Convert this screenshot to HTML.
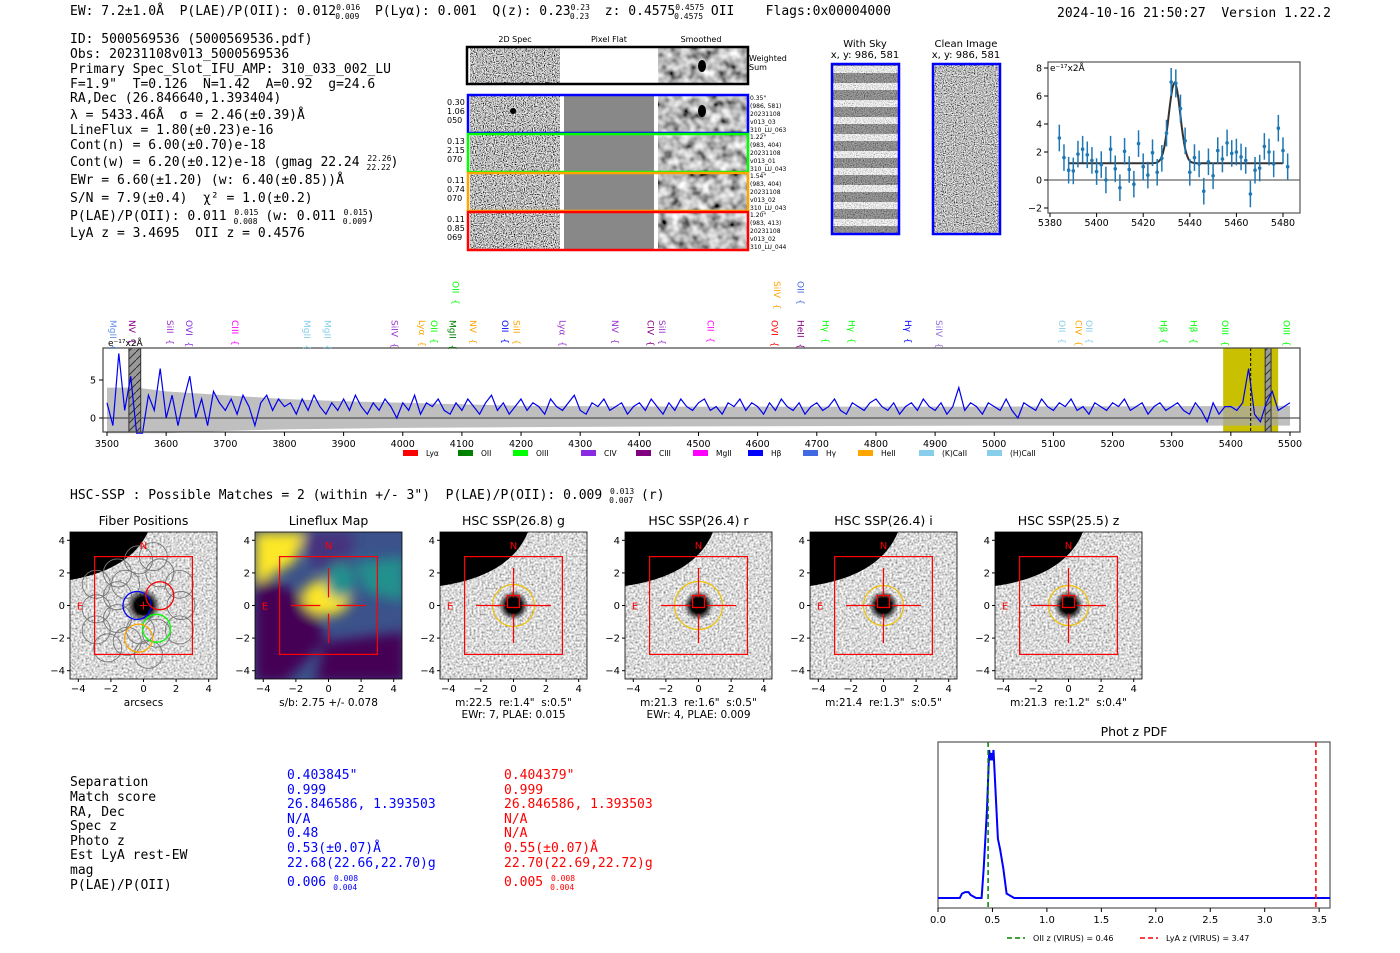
<!DOCTYPE html>
<html><head><meta charset="utf-8"><style>
html,body{margin:0;padding:0;background:#fff;}
svg{display:block;}
svg text{white-space:pre;}
.m{font-family:"DejaVu Sans Mono","Liberation Mono",monospace;font-size:13px;fill:#000;}
.s{font-family:"DejaVu Sans","Liberation Sans",sans-serif;}
</style></head><body>
<svg id="root" width="1400" height="953" viewBox="0 0 1400 953" xmlns="http://www.w3.org/2000/svg" xml:space="preserve">
<defs>
<filter id="nz" x="0" y="0" width="1" height="1"><feTurbulence type="fractalNoise" baseFrequency="0.9" numOctaves="1" seed="4"/><feColorMatrix type="matrix" values="2.6 0 0 0 -0.8 2.6 0 0 0 -0.8 2.6 0 0 0 -0.8 0 0 0 0 1"/></filter>
<filter id="nzs" x="0" y="0" width="1" height="1"><feTurbulence type="fractalNoise" baseFrequency="0.1" numOctaves="2" seed="7"/><feColorMatrix type="matrix" values="1.6 0 0 0 -0.3 1.6 0 0 0 -0.3 1.6 0 0 0 -0.3 0 0 0 0 1"/></filter>
<filter id="nzl" x="0" y="0" width="1" height="1"><feTurbulence type="fractalNoise" baseFrequency="0.5" numOctaves="1" seed="9"/><feColorMatrix type="matrix" values="1.5 0 0 0 -0.05 1.5 0 0 0 -0.05 1.5 0 0 0 -0.05 0 0 0 0 1"/></filter>
<filter id="nzc" x="0" y="0" width="1" height="1"><feTurbulence type="fractalNoise" baseFrequency="0.9" numOctaves="1" seed="11"/><feColorMatrix type="matrix" values="2.2 0 0 0 -0.6 2.2 0 0 0 -0.6 2.2 0 0 0 -0.6 0 0 0 0 1"/></filter>
<filter id="bl"><feGaussianBlur stdDeviation="6"/></filter>
<pattern id="hatch" width="8" height="8" patternUnits="userSpaceOnUse"><rect width="8" height="8" fill="#999"/><path d="M0 8 L8 0" stroke="#333" stroke-width="1"/></pattern>
<pattern id="stripes" width="10" height="17" patternUnits="userSpaceOnUse"><rect width="10" height="17" fill="#fff"/><rect y="5" width="10" height="10" fill="#777"/></pattern>
<radialGradient id="blob"><stop offset="0" stop-color="#000"/><stop offset="0.5" stop-color="#000"/><stop offset="1" stop-color="#000" stop-opacity="0"/></radialGradient>
</defs>

<text class="m" x="70" y="15">EW: 7.2±1.0Å  P(LAE)/P(OII): 0.012<tspan font-size="8" dy="-5">0.016</tspan><tspan font-size="8" dx="-25" dy="9">0.009</tspan><tspan dy="-4">  P(Lyα): 0.001  Q(z): 0.23</tspan><tspan font-size="8" dy="-5">0.23</tspan><tspan font-size="8" dx="-20" dy="9">0.23</tspan><tspan dy="-4">  z: 0.4575</tspan><tspan font-size="8" dy="-5">0.4575</tspan><tspan font-size="8" dx="-30" dy="9">0.4575</tspan><tspan dy="-4"> OII    Flags:0x00004000</tspan></text>
<text class="m" x="1057" y="17">2024-10-16 21:50:27  Version 1.22.2</text>

<g class="m">
<text x="70" y="43">ID: 5000569536 (5000569536.pdf)</text>
<text x="70" y="58">Obs: 20231108v013_5000569536</text>
<text x="70" y="73">Primary Spec_Slot_IFU_AMP: 310_033_002_LU</text>
<text x="70" y="88">F=1.9"  T=0.126  N=1.42  A=0.92  g=24.6</text>
<text x="70" y="102">RA,Dec (26.846640,1.393404)</text>
<text x="70" y="119">λ = 5433.46Å  σ = 2.46(±0.39)Å</text>
<text x="70" y="134">LineFlux = 1.80(±0.23)e-16</text>
<text x="70" y="149">Cont(n) = 6.00(±0.70)e-18</text>
<text x="70" y="166">Cont(w) = 6.20(±0.12)e-18 (gmag 22.24 <tspan font-size="8" dy="-5">22.26</tspan><tspan font-size="8" dx="-25" dy="9">22.22</tspan><tspan dy="-4">)</tspan></text>
<text x="70" y="184">EWr = 6.60(±1.20) (w: 6.40(±0.85))Å</text>
<text x="70" y="202">S/N = 7.9(±0.4)  χ² = 1.0(±0.2)</text>
<text x="70" y="220">P(LAE)/P(OII): 0.011 <tspan font-size="8" dy="-5">0.015</tspan><tspan font-size="8" dx="-25" dy="9">0.008</tspan><tspan dy="-4"> (w: 0.011 </tspan><tspan font-size="8" dy="-5">0.015</tspan><tspan font-size="8" dx="-25" dy="9">0.009</tspan><tspan dy="-4">)</tspan></text>
<text x="70" y="237">LyA z = 3.4695  OII z = 0.4576</text>
</g>

<g class="s">
<text x="515" y="42" font-size="8" text-anchor="middle">2D Spec</text>
<text x="609" y="42" font-size="8" text-anchor="middle">Pixel Flat</text>
<text x="701" y="42" font-size="8" text-anchor="middle">Smoothed</text>
<rect x="470" y="47" width="90" height="38" filter="url(#nz)"/>
<rect x="658" y="47" width="90" height="38" filter="url(#nzs)"/>
<ellipse cx="702" cy="66" rx="4" ry="6" fill="#000"/>
<rect x="467" y="47" width="281" height="37" fill="none" stroke="#000" stroke-width="2.5"/>
<text x="749" y="61" font-size="8">Weighted</text><text x="749" y="70" font-size="8">Sum</text>
<g id="rows"></g>
</g>

<g class="s">
<text x="865" y="47" font-size="10" text-anchor="middle">With Sky</text>
<text x="865" y="58" font-size="10" text-anchor="middle">x, y: 986, 581</text>
<rect x="832" y="64" width="67" height="170" fill="url(#stripes)"/>
<rect x="832" y="64" width="67" height="170" filter="url(#nz)" opacity="0.35"/>
<rect x="832" y="64" width="67" height="170" fill="none" stroke="#00f" stroke-width="2.5"/>
<text x="966" y="47" font-size="10" text-anchor="middle">Clean Image</text>
<text x="966" y="58" font-size="10" text-anchor="middle">x, y: 986, 581</text>
<rect x="933" y="64" width="67" height="170" filter="url(#nzc)"/>
<rect x="933" y="64" width="67" height="170" fill="none" stroke="#00f" stroke-width="2.5"/>
</g>

<g id="zoomspec" class="s"></g>
<g id="bigspec" class="s"></g>

<text class="m" x="70" y="499">HSC-SSP : Possible Matches = 2 (within +/- 3")  P(LAE)/P(OII): 0.009 <tspan font-size="8" dy="-5">0.013</tspan><tspan font-size="8" dx="-25" dy="9">0.007</tspan><tspan dy="-4"> (r)</tspan></text>

<g id="cutouts" class="s"></g>

<g class="m">
<text x="70" y="786">Separation</text><text x="70" y="801">Match score</text><text x="70" y="816">RA, Dec</text><text x="70" y="830">Spec z</text><text x="70" y="845">Photo z</text><text x="70" y="859">Est LyA rest-EW</text><text x="70" y="874">mag</text><text x="70" y="889">P(LAE)/P(OII)</text>
<text x="287" y="779" style="fill:#00f">0.403845"</text><text x="287" y="794" style="fill:#00f">0.999</text><text x="287" y="808" style="fill:#00f">26.846586, 1.393503</text><text x="287" y="823" style="fill:#00f">N/A</text><text x="287" y="837" style="fill:#00f">0.48</text><text x="287" y="852" style="fill:#00f">0.53(±0.07)Å</text><text x="287" y="867" style="fill:#00f">22.68(22.66,22.70)g</text><text x="287" y="886" style="fill:#00f">0.006 <tspan font-size="8" dy="-5">0.008</tspan><tspan font-size="8" dx="-25" dy="9">0.004</tspan></text>
<text x="504" y="779" style="fill:#f00">0.404379"</text><text x="504" y="794" style="fill:#f00">0.999</text><text x="504" y="808" style="fill:#f00">26.846586, 1.393503</text><text x="504" y="823" style="fill:#f00">N/A</text><text x="504" y="837" style="fill:#f00">N/A</text><text x="504" y="852" style="fill:#f00">0.55(±0.07)Å</text><text x="504" y="867" style="fill:#f00">22.70(22.69,22.72)g</text><text x="504" y="886" style="fill:#f00">0.005 <tspan font-size="8" dy="-5">0.008</tspan><tspan font-size="8" dx="-25" dy="9">0.004</tspan></text>
</g>

<g id="pdf" class="s"></g>
</svg>

<script>
const zWave = [5384,5386,5388,5390,5392,5394,5396,5398,5400,5402,5404,5406,5408,5410,5412,5414,5416,5418,5420,5422,5424,5426,5428,5430,5432,5434,5436,5438,5440,5442,5444,5446,5448,5450,5452,5454,5456,5458,5460,5462,5464,5466,5468,5470,5472,5474,5476,5478,5480,5482];
const zFlux = [3.0,1.6,0.7,0.65,1.85,2.2,1.8,1.4,0.6,1.1,0.0,2.2,0.8,-0.55,2.05,0.75,-0.3,2.6,0.95,0.35,1.95,0.55,1.55,3.35,7.0,6.9,5.1,2.8,0.55,1.6,1.15,-0.8,1.3,0.3,2.1,1.5,2.65,1.9,2.0,1.65,1.4,-1.0,0.7,0.85,2.4,2.0,1.15,3.7,2.1,0.95];
const zErr = [0.95,0.95,0.95,0.95,0.95,0.95,0.95,0.95,0.95,0.95,0.95,0.95,0.95,0.95,0.95,0.95,0.95,0.95,0.95,0.95,0.95,0.95,0.95,0.95,1.0,1.0,1.0,0.95,0.95,0.95,0.95,0.95,0.95,0.95,0.95,0.95,0.95,0.95,0.95,0.95,0.95,0.95,0.95,0.95,0.95,0.95,0.95,0.95,0.95,0.95];
const zXTicks = [5380,5400,5420,5440,5460,5480];
const zYTicks = [-2,0,2,4,6,8];
const fitCont = 1.2, fitAmp = 5.75, fitCenter = 5433.46, fitSigma = 2.46, fitStart = 5388, fitEnd = 5480;

const specStart = 3500, specStep = 10;
const specFlux = [2,-1,8.5,1,5.5,-2,-2,3,1,6.5, 0,3,-1,2.5,5.5,0,2.5,-1,3.5,2, 1,2.5,0.5,3,1.5,-1,2,3,1,2.5, 1.5,2,0.5,2.5,1,3,1.5,0.5,2,1, 2.5,1,3,1.5,0.5,2,1,2.5,1.5,0, 2,1,3,0.5,2,1.5,2.5,1,0.5,2, 1,2.5,1.5,0.5,2,3,1,2,0.5,1.5, 2.5,1,2,1.5,0.5,2.5,1.5,1,2,3, 1,0.5,2,1.5,2.5,1,1.5,2,0.5,1.5, 2,1,2.5,1.5,0.5,2,1,2.5,1.5,1, 2,2.5,1,1.5,0.5,2,1.5,2.5,1,2, 1.5,0.5,2,1,2.5,1.5,1,2,0.5,1.5, 2,1,1.5,2.5,1,0.5,2,1.5,1,2, 2.5,1.5,1,2,0.5,1.5,2,1,2.5,1.5, 1,2,0.5,1.5,4,1,2,1.5,0.5,2, 1.5,1,2.5,1,0,2,1.5,1,2.5,1.5, 1,2,1.5,2.5,1,1.5,0.5,2,1.5,1, 2,1.5,2.5,1,1.5,2,0.5,1.5,2,1, 1.5,2,1,0.5,2,1,-0.5,2,0.5,1.5, 1.5,1,2,6.5,0.5,-0.5,2,3.5,1,1.5,2];
const bandWave = [3500,3550,3600,3700,3800,3900,4000,4200,4500,5000,5500];
const bandHi = [4,4,3.5,3,2.5,2.2,2,1.6,1.5,1.5,1.6];
const bandLo = [-2,-2,-2,-1.7,-1.5,-1.4,-1.3,-1.2,-1.1,-1.0,-1.0];
const specXTicks = [3500,3600,3700,3800,3900,4000,4100,4200,4300,4400,4500,4600,4700,4800,4900,5000,5100,5200,5300,5400,5500];
const specYTicks = [0,5];
const lineNames = ["MgII","NV","SiII","OVI","CIII","MgII","MgII","SiIV","Lyα","OII","MgII","NV","OII","SiII","Lyα","NV","CIV","SiII","CII","OVI","HeII","Hγ","Hγ","Hγ","SiIV","OII","CIV","OII","Hβ","Hβ","OIII","OIII","OII","SiIV","OII"];
const lineWave = [3502,3534,3598,3630,3708,3830,3864,3978,4024,4044,4076,4110,4164,4184,4262,4350,4410,4430,4512,4620,4664,4706,4750,4846,4898,5106,5134,5152,5278,5328,5382,5486,4081,4624,4664];
const lineColors = ["#6495ed","#8b008b","#9932cc","#8a2be2","#ff00ff","#87ceeb","#87ceeb","#9932cc","#ffa500","#00ff00","#008000","#ffa500","#0000ff","#ffa500","#9932cc","#9932cc","#800080","#9932cc","#ff00ff","#ff0000","#800080","#00ff00","#00ff00","#0000ff","#9370db","#87ceeb","#ffa500","#87ceeb","#00ff00","#00ff00","#00ff00","#00ff00","#00ff00","#ffa500","#4169e1"];
const lineRow = [0,0,0,0,0,0,0,0,0,0,0,0,0,0,0,0,0,0,0,0,0,0,0,0,0,0,0,0,0,0,0,0,1,1,1];
const legendNames = ["Lyα","OII","OIII","CIV","CIII","MgII","Hβ","Hγ","HeII","(K)CaII","(H)CaII"];
const legendColors = ["#ff0000","#008000","#00ff00","#8a2be2","#800080","#ff00ff","#0000ff","#4169e1","#ffa500","#87ceeb","#87ceeb"];

const pdfZ = [0,0.2,0.22,0.25,0.28,0.3,0.35,0.4,0.42,0.45,0.47,0.48,0.49,0.5,0.51,0.53,0.55,0.57,0.6,0.63,0.7,3.6];
const pdfP = [0,0,0.03,0.04,0.04,0.02,0,0,0.2,0.6,1.0,0.93,0.98,0.93,1.0,0.7,0.4,0.33,0.2,0.03,0,0];
const pdfTicks = [0,0.5,1.0,1.5,2.0,2.5,3.0,3.5];
const oiiZ = 0.46, lyaZ = 3.47;

const NS = "http://www.w3.org/2000/svg";
function mk(parent, tag, attrs, text){const e=document.createElementNS(NS,tag);for(const k in attrs)e.setAttribute(k,attrs[k]);if(text!==undefined)e.textContent=text;parent.appendChild(e);return e;}

(function(){
 const g=document.getElementById('rows');
 const rowsY=[95,134,173,212], cols=["#0000ff","#00ff00","#ffa500","#ff0000"];
 const left=[["0.30","1.06","050"],["0.13","2.15","070"],["0.11","0.74","070"],["0.11","0.85","069"]];
 const right=[["0.35\"","(986, 581)","20231108","v013_03","310_LU_063"],["1.22\"","(983, 404)","20231108","v013_01","310_LU_043"],["1.54\"","(983, 404)","20231108","v013_02","310_LU_043"],["1.20\"","(983, 413)","20231108","v013_02","310_LU_044"]];
 rowsY.forEach((y,i)=>{
  const r1=mk(g,'rect',{x:470,y:y,width:90,height:38,filter:'url(#nz)'});
  
  
  mk(g,'rect',{x:564,y:y,width:90,height:38,fill:'#888'});
  mk(g,'rect',{x:658,y:y,width:90,height:38,filter:'url(#nzs)'});
  if(i===0){mk(g,'ellipse',{cx:702,cy:y+16,rx:4,ry:6,fill:'#000'});mk(g,'ellipse',{cx:513,cy:y+16,rx:3,ry:3,fill:'#000'});}
  const fr=mk(g,'rect',{x:468,y:y,width:280,height:38,fill:'none',stroke:cols[i],'stroke-width':2.5});
  
  
  left[i].forEach((t,j)=>mk(g,'text',{x:447,y:y+10+j*9,'font-size':8},t));
  right[i].forEach((t,j)=>mk(g,'text',{x:750,y:y+5+j*8,'font-size':6},t));
 });
})();

(function(){
 const g=document.getElementById('zoomspec');
 const X0=1048,X1=1300,Y0=62,Y1=213;
 const xs=w=>1050+(w-5380)*2.33, ys=v=>180-v*14;
 mk(g,'rect',{x:X0,y:Y0,width:X1-X0,height:Y1-Y0,fill:'#fff',stroke:'#555','stroke-width':1.2});
 mk(g,'line',{x1:X0,x2:X1,y1:ys(0),y2:ys(0),stroke:'#666','stroke-width':1.3});
 zXTicks.forEach(t=>{mk(g,'line',{x1:xs(t),x2:xs(t),y1:Y1,y2:Y1+4,stroke:'#000'});mk(g,'text',{x:xs(t),y:Y1+13,'font-size':9.5,'text-anchor':'middle'},t);});
 zYTicks.forEach(t=>{mk(g,'line',{x1:X0-4,x2:X0,y1:ys(t),y2:ys(t),stroke:'#000'});mk(g,'text',{x:X0-6,y:ys(t)+3.5,'font-size':9.5,'text-anchor':'end'},t<0?'−'+(-t):t);});
 mk(g,'text',{x:X0+2,y:Y0+9,'font-size':9},'e⁻¹⁷x2Å');
 let d='';for(let w=fitStart;w<=fitEnd;w+=0.5){const v=fitCont+fitAmp*Math.exp(-0.5*Math.pow((w-fitCenter)/fitSigma,2));d+=(d?'L':'M')+xs(w).toFixed(1)+' '+ys(v).toFixed(1);}
 const fit=mk(g,'path',{d:d,fill:'none',stroke:'#333','stroke-width':2});
 
 
 zWave.forEach((w,i)=>{
  mk(g,'line',{x1:xs(w),x2:xs(w),y1:ys(zFlux[i]+zErr[i]),y2:ys(zFlux[i]-zErr[i]),stroke:'#1f77b4','stroke-width':1.5});
  const p=mk(g,'circle',{cx:xs(w),cy:ys(zFlux[i]),r:1.8,fill:'#1f77b4'});
  
  
 });
})();

(function(){
 const g=document.getElementById('bigspec');
 const X0=103,X1=1300,Y0=348,Y1=432;
 const xs=w=>107+(w-3500)*0.5915, ys=v=>418-v*7.6;
 mk(g,'rect',{x:X0,y:Y0,width:X1-X0,height:Y1-Y0,fill:'#fff'});
 const band=mk(g,'rect',{x:xs(5387),y:Y0,width:xs(5480)-xs(5387),height:Y1-Y0,fill:'#c8c000'});
 
 
 let d='';bandWave.forEach((w,i)=>{d+=(i?'L':'M')+xs(w)+' '+ys(bandHi[i]);});
 for(let i=bandWave.length-1;i>=0;i--)d+='L'+xs(bandWave[i])+' '+ys(bandLo[i]);
 mk(g,'path',{d:d+'Z',fill:'#aaa',opacity:0.75});
 mk(g,'rect',{x:xs(3537),y:Y0,width:xs(3557)-xs(3537),height:Y1-Y0,fill:'url(#hatch)',stroke:'#333'});
 mk(g,'rect',{x:xs(5458),y:Y0,width:xs(5468)-xs(5458),height:Y1-Y0,fill:'url(#hatch)',stroke:'#333'});
 mk(g,'line',{x1:X0,x2:X1,y1:ys(0),y2:ys(0),stroke:'#555','stroke-width':1.2});
 mk(g,'line',{x1:xs(5433.5),x2:xs(5433.5),y1:Y0,y2:Y1,stroke:'#000','stroke-dasharray':'3,2'});
 let p='';specFlux.forEach((v,i)=>{const vv=Math.max(-2,Math.min(9.2,v));p+=(i?'L':'M')+xs(specStart+i*specStep).toFixed(1)+' '+ys(vv).toFixed(1);});
 const ln=mk(g,'path',{d:p,fill:'none',stroke:'#0000ee','stroke-width':1.2});
 
 
 mk(g,'rect',{x:X0,y:Y0,width:X1-X0,height:Y1-Y0,fill:'none',stroke:'#444','stroke-width':1.2});
 specXTicks.forEach(t=>{mk(g,'line',{x1:xs(t),x2:xs(t),y1:Y1,y2:Y1+4,stroke:'#000'});mk(g,'text',{x:xs(t),y:Y1+15,'font-size':9.5,'text-anchor':'middle'},t);});
 specYTicks.forEach(t=>{mk(g,'line',{x1:X0-4,x2:X0,y1:ys(t),y2:ys(t),stroke:'#000'});mk(g,'text',{x:X0-7,y:ys(t)+3.5,'font-size':9.5,'text-anchor':'end'},t);});
 mk(g,'text',{x:108,y:346,'font-size':9},'e⁻¹⁷x2Å');
 lineNames.forEach((n,i)=>{
  const x=xs(lineWave[i]), y=lineRow[i]?281:320;
  const t=mk(g,'text',{x:x,y:y,'font-size':9,fill:lineColors[i],transform:`rotate(90 ${x} ${y})`,dy:'-2'},n+'  {');
  
  
 });
 const lstep=[0,55,55,68,55,57,55,55,55,61,68];
 let lx=403;
 legendNames.forEach((n,i)=>{
  lx+=lstep[i];
  const sw=mk(g,'rect',{x:lx,y:450,width:15,height:6,fill:legendColors[i]});
  
  
  mk(g,'text',{x:lx+23,y:456,'font-size':7.5},n);
 });
})();

(function(){
 const g=document.getElementById('cutouts');
 const titles=["Fiber Positions","Lineflux Map","HSC SSP(26.8) g","HSC SSP(26.4) r","HSC SSP(26.4) i","HSC SSP(25.5) z"];
 const sub=[["arcsecs"],["s/b: 2.75 +/- 0.078"],["m:22.5  re:1.4\"  s:0.5\"","EWr: 7, PLAE: 0.015"],["m:21.3  re:1.6\"  s:0.5\"","EWr: 4, PLAE: 0.009"],["m:21.4  re:1.3\"  s:0.5\""],["m:21.3  re:1.2\"  s:0.4\""]];
 const ticks=[-4,-2,0,2,4];
 for(let k=0;k<6;k++){
  const L=70+k*185, T=532, W=147, H=147, cx=L+73.5, cy=T+73.5, u=16.3;
  const pg=mk(g,'g',{});
  
  
  mk(pg,'text',{x:cx,y:525,'font-size':12.5,'text-anchor':'middle'},titles[k]);
  const cp='cp'+k; const c=mk(pg,'clipPath',{id:cp}); mk(c,'rect',{x:L,y:T,width:W,height:H});
  const ig=mk(pg,'g',{'clip-path':`url(#${cp})`});
  if(k===1){
   mk(ig,'rect',{x:L,y:T,width:W,height:H,fill:'#3b528b'});
   const gg=mk(ig,'g',{filter:'url(#bl)'});
   mk(gg,'path',{d:`M${L} ${T+40} L${L+60} ${T+70} L${L+70} ${T+110} L${L+30} ${T+150} L${L} ${T+150}Z`,fill:'#440154'});
   mk(gg,'path',{d:`M${L+70} ${T+110} L${L+150} ${T+100} L${L+150} ${T+150} L${L+60} ${T+150}Z`,fill:'#440154'});
   mk(gg,'path',{d:`M${L+40} ${T} L${L+100} ${T} L${L+90} ${T+40} L${L+60} ${T+35}Z`,fill:'#46337e'});
   mk(gg,'path',{d:`M${L+100} ${T+30} L${L+150} ${T+25} L${L+150} ${T+70} L${L+110} ${T+60}Z`,fill:'#21908d'});
   mk(gg,'path',{d:`M${L} ${T} L${L+50} ${T} L${L+40} ${T+30} L${L+5} ${T+50} L${L} ${T+50}Z`,fill:'#fde725'});
   mk(gg,'ellipse',{cx:cx-2,cy:cy-8,rx:24,ry:18,fill:'#fde725'});
   mk(gg,'ellipse',{cx:cx+12,cy:cy-25,rx:15,ry:18,fill:'#21908d'});
  } else {
   mk(ig,'rect',{x:L,y:T,width:W,height:H,filter:'url(#nzl)'});
   if(k===0) mk(ig,'path',{d:`M${L} ${T} L${L+78} ${T} Q${L+60} ${T+38} ${L} ${T+48}Z`,fill:'#000'});
   else mk(ig,'path',{d:`M${L} ${T} L${L+88} ${T} Q${L+70} ${T+44} ${L} ${T+54}Z`,fill:'#000'});
   mk(ig,'circle',{cx:cx,cy:cy,r:k===0?17:15,fill:'url(#blob)'});
   if(k>1){mk(ig,'path',{d:`M${L} ${T+58} Q${L+76} ${T+48} ${L+92} ${T}`,fill:'none',stroke:'#ddd','stroke-dasharray':'3,2'});
    mk(ig,'circle',{cx:cx,cy:cy,r:k===3?24:k===2?21:20,fill:'none',stroke:'#f0c000','stroke-width':1.2});
    mk(ig,'rect',{x:cx-6,y:cy-10,width:12,height:12,fill:'none',stroke:'#f00','stroke-width':1.3});}
  }
  if(k===0){
   const pos=[[-2.9,1.3],[-1.6,2.0],[-0.3,2.8],[1.0,2.0],[2.2,1.3],[-2.9,-0.2],[-1.6,0.6],[-0.4,0],[1.0,0.6],[2.3,0],[-2.9,-1.5],[-1.6,-0.8],[-1.0,-2.2],[0.8,-1.7],[2.2,-1.5],[-2.2,-2.6],[0.3,-3.0],[-0.2,-1.5],[0.6,3.0],[-1.1,1.3]];
   pos.forEach(p=>mk(ig,'circle',{cx:cx+p[0]*u,cy:cy-p[1]*u,r:14,fill:'none',stroke:'#777','stroke-width':0.9}));
   [[-0.4,0,'#00f'],[1.0,0.6,'#f00'],[0.8,-1.4,'#0f0'],[-0.3,-2.0,'#ffa500']].forEach(p=>mk(ig,'circle',{cx:cx+p[0]*u,cy:cy-p[1]*u,r:14,fill:'none',stroke:p[2],'stroke-width':1.3}));
   mk(ig,'text',{x:cx,y:cy+4,'font-size':12,fill:'#f00','text-anchor':'middle'},'+');
  } else {
   mk(ig,'line',{x1:cx-2.3*u,x2:cx-0.5*u,y1:cy,y2:cy,stroke:'#f00','stroke-width':1.2});
   mk(ig,'line',{x1:cx+0.5*u,x2:cx+2.3*u,y1:cy,y2:cy,stroke:'#f00','stroke-width':1.2});
   mk(ig,'line',{x1:cx,x2:cx,y1:cy-2.3*u,y2:cy-0.5*u,stroke:'#f00','stroke-width':1.2});
   mk(ig,'line',{x1:cx,x2:cx,y1:cy+0.5*u,y2:cy+2.3*u,stroke:'#f00','stroke-width':1.2});
  }
  mk(ig,'rect',{x:cx-3*u,y:cy-3*u,width:6*u,height:6*u,fill:'none',stroke:'#f00','stroke-width':1.2});
  mk(pg,'text',{x:cx,y:T+17,'font-size':10,fill:'#f00','text-anchor':'middle'},'N');
  mk(pg,'text',{x:L+10,y:cy+4,'font-size':10,fill:'#f00','text-anchor':'middle'},'E');
  mk(pg,'rect',{x:L,y:T,width:W,height:H,fill:'none',stroke:'#000','stroke-width':0.8});
  ticks.forEach(t=>{
   const tx=cx+t*u, ty=cy-t*u, lab=t<0?'−'+(-t):''+t;
   mk(pg,'line',{x1:tx,x2:tx,y1:T+H,y2:T+H+3,stroke:'#000'});
   mk(pg,'text',{x:tx,y:T+H+13,'font-size':10,'text-anchor':'middle'},lab);
   mk(pg,'line',{x1:L-3,x2:L,y1:ty,y2:ty,stroke:'#000'});
   mk(pg,'text',{x:L-5,y:ty+3.5,'font-size':10,'text-anchor':'end'},lab);
  });
  sub[k].forEach((s,j)=>mk(pg,'text',{x:cx,y:706+j*12,'font-size':10.5,'text-anchor':'middle'},s));
 }
})();

(function(){
 const g=document.getElementById('pdf');
 const X0=938,X1=1330,Y0=742,Y1=908;
 const xs=z=>938+z*108.9, ys=p=>898-p*148;
 mk(g,'text',{x:1134,y:736,'font-size':12.5,'text-anchor':'middle'},'Phot z PDF');
 mk(g,'rect',{x:X0,y:Y0,width:X1-X0,height:Y1-Y0,fill:'#fff',stroke:'#555','stroke-width':1.2});
 let d='';pdfZ.forEach((z,i)=>{d+=(i?'L':'M')+xs(z).toFixed(1)+' '+ys(pdfP[i]).toFixed(1);});
 const c=mk(g,'path',{d:d,fill:'none',stroke:'#00f','stroke-width':2});
 
 
 mk(g,'line',{x1:xs(oiiZ),x2:xs(oiiZ),y1:Y0,y2:Y1,stroke:'#008000','stroke-width':1.5,'stroke-dasharray':'5,3'});
 mk(g,'line',{x1:xs(lyaZ),x2:xs(lyaZ),y1:Y0,y2:Y1,stroke:'#f00','stroke-width':1.5,'stroke-dasharray':'5,3'});
 pdfTicks.forEach(t=>{mk(g,'line',{x1:xs(t),x2:xs(t),y1:Y1,y2:Y1+4,stroke:'#000'});mk(g,'text',{x:xs(t),y:Y1+15,'font-size':10,'text-anchor':'middle'},t.toFixed(1));});
 mk(g,'line',{x1:1007,x2:1025,y1:938,y2:938,stroke:'#008000','stroke-width':1.5,'stroke-dasharray':'5,3'});
 mk(g,'text',{x:1033,y:941,'font-size':8},'OII z (VIRUS) = 0.46');
 mk(g,'line',{x1:1140,x2:1158,y1:938,y2:938,stroke:'#f00','stroke-width':1.5,'stroke-dasharray':'5,3'});
 mk(g,'text',{x:1166,y:941,'font-size':8},'LyA z (VIRUS) = 3.47');
})();
</script>
</body></html>
